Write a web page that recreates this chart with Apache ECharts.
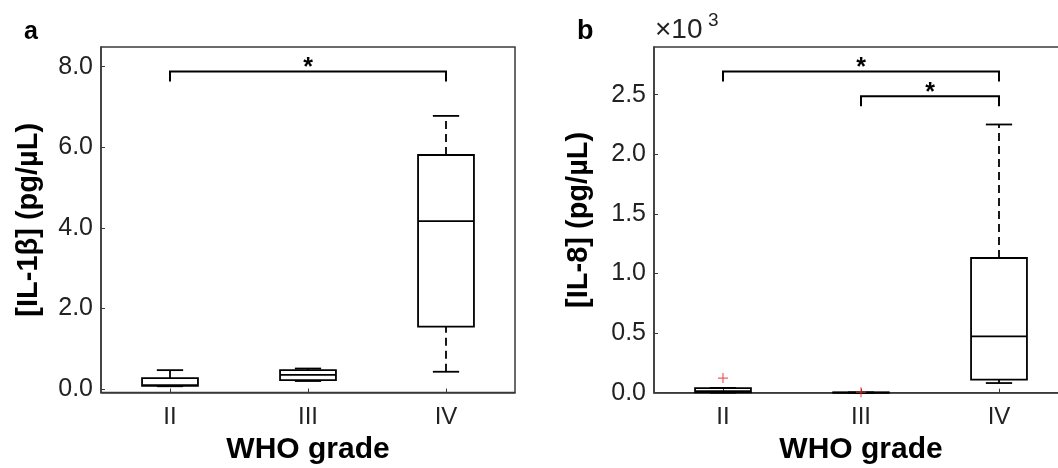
<!DOCTYPE html>
<html>
<head>
<meta charset="utf-8">
<script src="https://cdn.jsdelivr.net/npm/echarts@6/dist/echarts.min.js"></script>
<style>
  html, body { margin: 0; padding: 0; background: #fff; }
  #chart { width: 1058px; height: 468px; }
</style>
</head>
<body>
<div id="chart"></div>
<script>
// categories
const grades = ['II', 'III', 'IV']

// box stats per grade: [min, Q1, median, Q3, max]
const il1bBoxes = [
  [0.07, 0.08, 0.10, 0.27, 0.47],
  [0.20, 0.22, 0.35, 0.47, 0.51],
  [0.43, 1.55, 4.17, 5.81, 6.78]
]
const il8Boxes = [
  [1, 3, 12, 38, 40],
  [0, 1, 1, 2, 2],
  [81, 109, 472, 1130, 2250]
]

// outliers: [grade index, value]
const il8Outliers = [
  [0, 123],
  [1, 4]
]

// significance brackets: [from grade, to grade, height]
const il1bBrackets = [[0, 2, 7.88]]
const il8Brackets = [[0, 2, 2695], [1, 2, 2486]]

// tick labels
const il1bTicks = [0, 2, 4, 6, 8]
const il8Ticks = [0, 500, 1000, 1500, 2000, 2500]

const FONT = '"Liberation Sans", Arial, Helvetica, sans-serif'
const INK = '#000'
const AXIS = '#3a3a3a'

const chart = echarts.init(document.getElementById('chart'))

const renderBox = (params, api) => {
  const c = api.value(0)
  const bw = api.size([1, 0])[0] * 0.405
  const cw = bw * 0.47
  const p = [1, 2, 3, 4, 5].map(d => api.coord([c, api.value(d)]))
  const x = p[0][0]
  const solid = { stroke: INK, lineWidth: 1.8, fill: 'none' }
  const dashed = { stroke: INK, lineWidth: 1.8, lineDash: [8, 5] }
  return {
    type: 'group',
    children: [
      { type: 'line', shape: { x1: x, y1: p[3][1], x2: x, y2: p[4][1] }, style: dashed },
      { type: 'line', shape: { x1: x, y1: p[0][1], x2: x, y2: p[1][1] }, style: dashed },
      { type: 'line', shape: { x1: x - cw / 2, y1: p[4][1], x2: x + cw / 2, y2: p[4][1] }, style: solid },
      { type: 'line', shape: { x1: x - cw / 2, y1: p[0][1], x2: x + cw / 2, y2: p[0][1] }, style: solid },
      { type: 'rect', shape: { x: x - bw / 2, y: p[3][1], width: bw, height: p[1][1] - p[3][1] }, style: solid },
      { type: 'line', shape: { x1: x - bw / 2, y1: p[2][1], x2: x + bw / 2, y2: p[2][1] }, style: solid }
    ]
  }
}

const renderBracket = (params, api) => {
  const a = api.coord([api.value(0), api.value(2)])
  const b = api.coord([api.value(1), api.value(2)])
  const drop = 10
  return {
    type: 'group',
    children: [
      {
        type: 'polyline',
        shape: { points: [[a[0], a[1] + drop], [a[0], a[1]], [b[0], b[1]], [b[0], b[1] + drop]] },
        style: { stroke: INK, lineWidth: 2, fill: 'none' }
      },
      {
        type: 'text',
        style: {
          text: '*', x: (a[0] + b[0]) / 2, y: a[1] - 3,
          align: 'center', verticalAlign: 'middle',
          font: 'bold 25px ' + FONT, fill: INK
        }
      }
    ]
  }
}

const xAxisFor = (gi) => ({
  gridIndex: gi,
  type: 'category',
  data: grades,
  boundaryGap: true,
  name: 'WHO grade',
  nameLocation: 'middle',
  nameGap: 41,
  nameTextStyle: { fontFamily: FONT, fontWeight: 'bold', fontSize: 30, color: INK },
  axisLine: { show: true, onZero: false, lineStyle: { color: AXIS, width: 1.5 } },
  axisTick: { show: true, inside: true, length: 4, alignWithLabel: true, lineStyle: { color: AXIS } },
  axisLabel: { fontFamily: FONT, fontSize: 24, color: '#222', margin: 13 },
  splitLine: { show: false }
})

const yAxisFor = (gi, min, max, ticks, name, fmt, gap) => ({
  gridIndex: gi,
  type: 'value',
  min: min,
  max: max,
  name: name,
  nameLocation: 'middle',
  nameGap: gap,
  nameTextStyle: { fontFamily: FONT, fontWeight: 'bold', fontSize: 29, color: INK },
  axisLine: { show: true, onZero: false, lineStyle: { color: AXIS, width: 1.5 } },
  axisTick: { show: true, inside: true, length: 4, customValues: ticks, lineStyle: { color: AXIS } },
  axisLabel: { fontFamily: FONT, fontSize: 25, color: '#222', margin: 8, customValues: ticks, formatter: fmt },
  splitLine: { show: false }
})

const plusSymbol = 'path://M4.4,0H5.6V4.4H10V5.6H5.6V10H4.4V5.6H0V4.4H4.4Z'

const option = {
  animation: false,
  backgroundColor: '#fff',
  grid: [
    { left: 101, top: 47, width: 414, height: 345.5, show: true, borderColor: AXIS, borderWidth: 1.5, outerBoundsMode: 'none', containLabel: false },
    { left: 654, top: 47, width: 414, height: 345.7, show: true, borderColor: AXIS, borderWidth: 1.5, outerBoundsMode: 'none', containLabel: false }
  ],
  xAxis: [xAxisFor(0), xAxisFor(1)],
  yAxis: [
    yAxisFor(0, -0.085, 8.49, il1bTicks, '[IL-1β] (pg/µL)', v => v.toFixed(1), 58),
    yAxisFor(1, 0, 2900, il8Ticks, '[IL-8] (pg/µL)', v => (v / 1000).toFixed(1), 61)
  ],
  graphic: [
    { type: 'text', left: 24, top: 20, style: { text: 'a', font: 'bold 25px ' + FONT, fill: INK } },
    { type: 'text', left: 577, top: 18, style: { text: 'b', font: 'bold 27px ' + FONT, fill: INK } },
    { type: 'text', left: 655, top: 16, style: { text: '×10', font: '28px ' + FONT, fill: '#222' } },
    { type: 'text', left: 708, top: 11, style: { text: '3', font: '19px ' + FONT, fill: '#222' } }
  ],
  series: [
    {
      type: 'custom', xAxisIndex: 0, yAxisIndex: 0,
      renderItem: renderBox,
      encode: { x: 0, y: [1, 2, 3, 4, 5] },
      data: il1bBoxes.map((b, i) => [i, ...b])
    },
    {
      type: 'custom', xAxisIndex: 0, yAxisIndex: 0,
      renderItem: renderBracket,
      encode: { x: [0, 1], y: 2 },
      data: il1bBrackets
    },
    {
      type: 'custom', xAxisIndex: 1, yAxisIndex: 1,
      renderItem: renderBox,
      encode: { x: 0, y: [1, 2, 3, 4, 5] },
      data: il8Boxes.map((b, i) => [i, ...b])
    },
    {
      type: 'custom', xAxisIndex: 1, yAxisIndex: 1,
      renderItem: renderBracket,
      encode: { x: [0, 1], y: 2 },
      data: il8Brackets
    },
    {
      type: 'scatter', xAxisIndex: 1, yAxisIndex: 1,
      symbol: plusSymbol, symbolSize: 10,
      itemStyle: { color: '#e8353a' },
      data: il8Outliers
    }
  ]
}

chart.setOption(option)
</script>
</body>
</html>
